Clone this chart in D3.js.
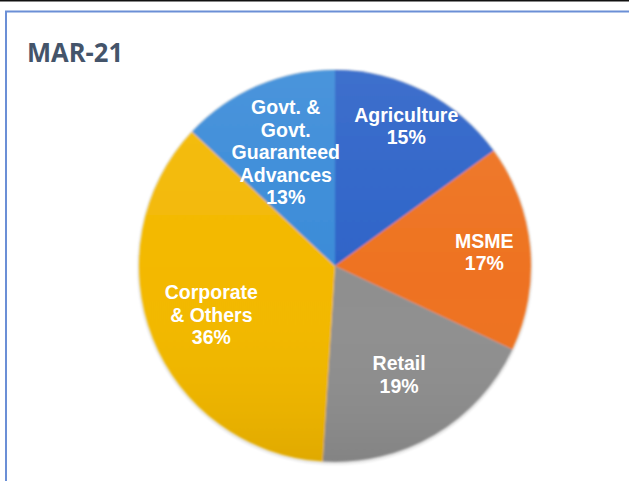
<!DOCTYPE html>
<html>
<head>
<meta charset="utf-8">
<script src="https://cdn.jsdelivr.net/npm/d3@7"></script>
<style>
  html, body { margin: 0; padding: 0; background: #fff; }
  svg { display: block; }
</style>
</head>
<body>
<div id="chart"></div>
<script>
// Data
const categories = ["Agriculture", "MSME", "Retail", "Corporate & Others", "Govt. & Govt. Guaranteed Advances"];
const shares = [15, 17, 19, 36, 13];
const labelLines = [
  ["Agriculture", "15%"],
  ["MSME", "17%"],
  ["Retail", "19%"],
  ["Corporate", "& Others", "36%"],
  ["Govt. &", "Govt.", "Guaranteed", "Advances", "13%"]
];
const colors = ["#2d63c8", "#ee7220", "#8f8f8f", "#f3b800", "#3a8bd8"];

// Layout
const W = 629, H = 481;
const cx = 335, cy = 266, radius = 196;
const labelRadius = [157, 150, 126, 133, 124];
const lineH = 22.5;

const svg = d3.select("#chart")
  .append("svg")
  .attr("width", W)
  .attr("height", H);

const defs = svg.append("defs");

// soft edge + shading
defs.append("filter").attr("id", "soft")
  .attr("x", "-10%").attr("y", "-10%").attr("width", "120%").attr("height", "120%")
  .append("feGaussianBlur").attr("stdDeviation", 1.2);

const shade = defs.append("linearGradient").attr("id", "shade")
  .attr("x1", 0).attr("y1", 0).attr("x2", 0).attr("y2", 1);
shade.append("stop").attr("offset", "0%").attr("stop-color", "#fff").attr("stop-opacity", 0.08);
shade.append("stop").attr("offset", "55%").attr("stop-color", "#fff").attr("stop-opacity", 0);
shade.append("stop").attr("offset", "100%").attr("stop-color", "#000").attr("stop-opacity", 0.08);

// frame
svg.append("rect")
  .attr("x", 0).attr("y", 0).attr("width", W).attr("height", 1.5)
  .attr("fill", "#111");
svg.append("path")
  .attr("d", `M6,${H} V11.5 H${W}`)
  .attr("fill", "none")
  .attr("stroke", "#6b8fd6")
  .attr("stroke-width", 2);

// title
svg.append("text")
  .attr("x", 27)
  .attr("y", 62)
  .attr("fill", "#44546a")
  .attr("font-family", "'Open Sans', Lato, sans-serif")
  .attr("font-weight", 700)
  .attr("font-size", 27)
  .attr("textLength", 96)
  .attr("lengthAdjust", "spacingAndGlyphs")
  .text("MAR-21");

// pie
const pie = d3.pie().sort(null).value(d => d);
const arcs = pie(shares);
const arc = d3.arc().innerRadius(0).outerRadius(radius);

const g = svg.append("g").attr("transform", `translate(${cx},${cy})`);

g.append("circle")
  .attr("r", radius + 2)
  .attr("cy", 1)
  .attr("fill", "#000")
  .attr("opacity", 0.08)
  .attr("filter", "url(#soft)");

const slices = g.append("g").attr("filter", "url(#soft)");
slices.selectAll("path")
  .data(arcs)
  .enter()
  .append("path")
  .attr("d", arc)
  .attr("fill", (d, i) => colors[i]);

slices.append("circle")
  .attr("r", radius)
  .attr("fill", "url(#shade)");

// labels
arcs.forEach((d, i) => {
  const la = d3.arc().innerRadius(labelRadius[i]).outerRadius(labelRadius[i]);
  const [lx, ly] = la.centroid(d);
  const lines = labelLines[i];
  const y0 = ly - (lines.length - 1) * lineH / 2;
  const t = g.append("text")
    .attr("text-anchor", "middle")
    .attr("dominant-baseline", "central")
    .attr("fill", "#fff")
    .attr("font-family", "'Liberation Sans', Arial, sans-serif")
    .attr("font-weight", "bold")
    .attr("font-size", 19.5);
  lines.forEach((s, k) => {
    t.append("tspan")
      .attr("x", lx)
      .attr("y", y0 + k * lineH)
      .text(s);
  });
});
</script>
</body>
</html>
